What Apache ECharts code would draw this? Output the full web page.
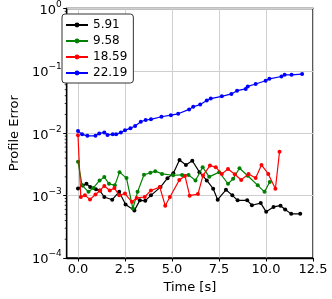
<!DOCTYPE html>
<html><head><meta charset="utf-8">
<script src="https://cdn.jsdelivr.net/npm/echarts@6/dist/echarts.min.js"></script>
<style>html,body{margin:0;padding:0;background:#fff}#c{width:332px;height:299px}</style>
</head><body><div id="c"></div>
<script>
const seriesNames = ['5.91', '9.58', '18.59', '22.19'];
const xTicks = [0, 2.5, 5, 7.5, 10, 12.5];

const t591 = [0, 0.25, 0.45, 0.65, 0.95, 1.15, 1.40, 1.82, 2.19, 2.53, 3.00, 3.29, 3.58, 3.88, 4.39, 4.76, 5.07, 5.40, 5.74, 6.08, 6.46, 6.85, 7.19, 7.43, 7.87, 8.21, 8.49, 9.00, 9.25, 9.72, 10.01, 10.40, 10.77, 11.02, 11.34, 11.82];
const e591 = [0.0013, 0.00145, 0.00155, 0.00137, 0.00126, 0.00121, 0.00095, 0.00086, 0.00115, 0.00072, 0.00058, 0.00084, 0.00083, 0.00101, 0.00137, 0.0019, 0.00229, 0.00373, 0.0031, 0.00363, 0.00238, 0.00175, 0.00129, 0.00086, 0.00124, 0.00101, 0.00084, 0.00084, 0.0007, 0.00076, 0.00055, 0.00066, 0.00069, 0.0006, 0.00051, 0.00051];

const t958 = [0, 0.22, 0.56, 0.81, 1.15, 1.40, 1.65, 1.96, 2.21, 2.58, 2.92, 3.17, 3.51, 3.85, 4.11, 4.47, 5.06, 5.54, 5.88, 6.25, 6.63, 6.98, 7.51, 7.98, 8.25, 8.59, 9.03, 9.56, 9.92, 10.20];
const e958 = [0.0035, 0.00146, 0.00115, 0.00132, 0.00175, 0.00198, 0.00155, 0.00146, 0.00238, 0.00191, 0.00062, 0.00115, 0.00216, 0.00232, 0.00247, 0.00223, 0.00212, 0.00215, 0.00215, 0.00175, 0.00286, 0.0020, 0.00238, 0.00155, 0.00186, 0.00275, 0.00208, 0.00146, 0.00115, 0.00165];

const t1859 = [0, 0.15, 0.37, 0.64, 0.93, 1.18, 1.40, 1.69, 1.94, 2.19, 2.50, 2.87, 3.12, 3.55, 3.88, 4.35, 4.64, 4.89, 5.39, 5.69, 5.94, 6.38, 6.65, 7.02, 7.33, 7.65, 7.98, 8.34, 8.68, 9.07, 9.45, 9.76, 10.12, 10.50, 10.72];
const e1859 = [0.0093, 0.00095, 0.00101, 0.00087, 0.00104, 0.00121, 0.00143, 0.00121, 0.00132, 0.00101, 0.00108, 0.00079, 0.00092, 0.00095, 0.00121, 0.00137, 0.00069, 0.00095, 0.00178, 0.00207, 0.0010, 0.00106, 0.00211, 0.00303, 0.00286, 0.00223, 0.00268, 0.0022, 0.00178, 0.00223, 0.00191, 0.0031, 0.00223, 0.00129, 0.00505];

const t2219 = [0, 0.22, 0.50, 0.93, 1.13, 1.40, 1.57, 1.85, 2.03, 2.28, 2.50, 2.79, 3.04, 3.34, 3.60, 3.88, 4.44, 4.94, 5.33, 5.91, 6.13, 6.50, 6.85, 7.06, 7.65, 8.16, 8.46, 8.92, 9.03, 9.45, 9.98, 10.18, 10.82, 10.99, 11.36, 11.92];
const e2219 = [0.0109, 0.0096, 0.0091, 0.0091, 0.0099, 0.0103, 0.0094, 0.0096, 0.0096, 0.0103, 0.0112, 0.0120, 0.0131, 0.0153, 0.0163, 0.0167, 0.0184, 0.0195, 0.0205, 0.0241, 0.0265, 0.0289, 0.0334, 0.0360, 0.0391, 0.0427, 0.0482, 0.0513, 0.0564, 0.0615, 0.0694, 0.0746, 0.0812, 0.0864, 0.0864, 0.0887];

const colors = ['#000000', '#008000', '#ff0000', '#0000ff'];
const xs = [t591, t958, t1859, t2219];
const ys = [e591, e958, e1859, e2219];

const xMin = -0.6, xMax = 12.5, yMin = 1e-4, yMax = 1;
const FONT = 'DejaVu Sans';
const sup = e => String(e).replace('-', '\u2212');

const chart = echarts.init(document.getElementById('c'), null, {renderer: 'canvas'});
const option = {
  animation: false,
  textStyle: {fontFamily: FONT},
  grid: {left: 56, right: 19, top: 8, bottom: 40, show: true, borderColor: '#000', borderWidth: 1.3, backgroundColor: 'transparent'},
  legend: {
    data: seriesNames, orient: 'vertical', left: 62, top: 14,
    itemWidth: 22, itemHeight: 6, itemGap: 4,
    textStyle: {fontFamily: FONT, fontSize: 12, color: '#000'},
    borderColor: '#333', borderWidth: 1, borderRadius: 3, padding: [5, 6, 4, 3],
    backgroundColor: '#fff'
  },
  xAxis: {
    type: 'value', min: xMin, max: xMax,
    name: 'Time [s]', nameLocation: 'middle', nameGap: 23,
    nameTextStyle: {fontFamily: FONT, fontSize: 13, color: '#000'},
    axisLine: {show: true, onZero: false, lineStyle: {color: '#000', width: 1.3}},
    axisTick: {show: true, customValues: xTicks, length: 3.5, lineStyle: {color: '#000'}},
    axisLabel: {customValues: xTicks, formatter: v => v.toFixed(1), fontFamily: FONT, fontSize: 13, color: '#000', margin: 5},
    splitLine: {show: true, lineStyle: {color: '#cfcfcf', width: 1}}
  },
  yAxis: {
    type: 'log', logBase: 10, min: yMin, max: yMax,
    name: 'Profile Error', nameLocation: 'middle', nameGap: 42,
    nameTextStyle: {fontFamily: FONT, fontSize: 13, color: '#000'},
    axisLine: {show: true, onZero: false, lineStyle: {color: '#000', width: 1.3}},
    axisTick: {show: true, length: 3.5, lineStyle: {color: '#000'}},
    axisLabel: {
      fontFamily: FONT, color: '#000', margin: 5,
      formatter: v => '{b|10}{s|' + sup(Math.round(Math.log10(v))) + '}',
      rich: {
        b: {fontFamily: FONT, fontSize: 13, color: '#000', verticalAlign: 'bottom', lineHeight: 17},
        s: {fontFamily: FONT, fontSize: 9, color: '#000', verticalAlign: 'top', lineHeight: 17, padding: [0, 0, 7, 0]}
      }
    },
    splitLine: {show: true, lineStyle: {color: '#cfcfcf', width: 1}}
  },
  series: seriesNames.map((n, i) => ({
    name: n, type: 'line',
    data: xs[i].map((t, j) => [t, ys[i][j]]),
    symbol: 'circle', symbolSize: 4, showSymbol: true,
    lineStyle: {color: colors[i], width: 1.2},
    itemStyle: {color: colors[i]},
    z: 2 + i
  }))
};
chart.setOption(option);

// matplotlib-style minor ticks on the log axis, positioned through the axis scale
const minor = [];
for (let n = -4; n < 0; n++) {
  for (let k = 2; k <= 9; k++) {
    const p = chart.convertToPixel({gridIndex: 0}, [xMin, k * Math.pow(10, n)]);
    minor.push({type: 'line', shape: {x1: p[0] - 2, y1: p[1], x2: p[0], y2: p[1]}, style: {stroke: '#000', lineWidth: 0.8}, silent: true});
  }
}
chart.setOption({graphic: minor});
</script></body></html>
